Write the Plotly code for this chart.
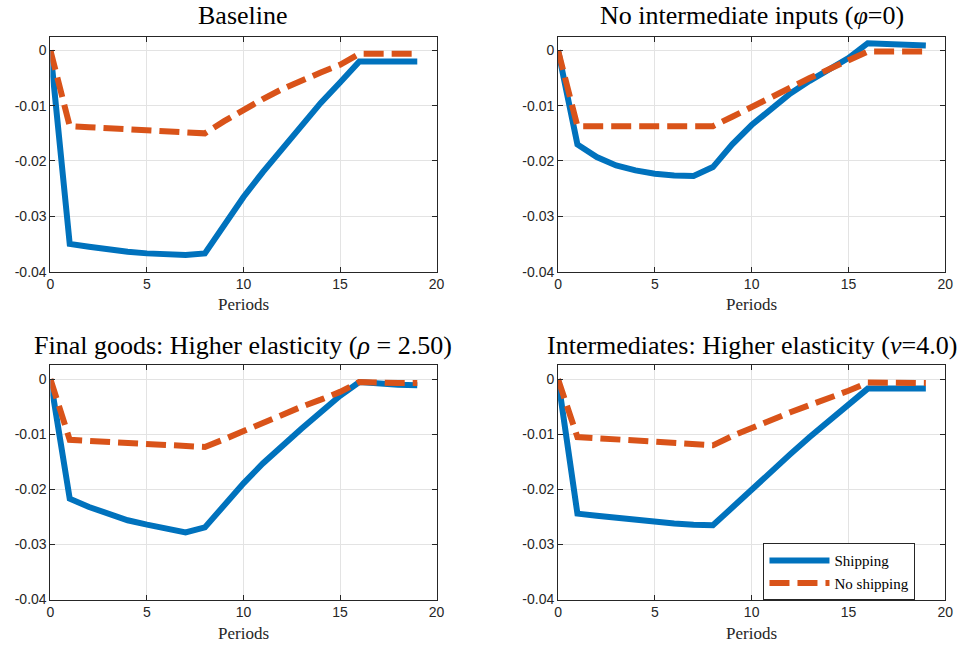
import plotly.graph_objects as go

periods = list(range(20))

titles = [
    "Baseline",
    "No intermediate inputs (<i>φ</i>=0)",
    "Final goods: Higher elasticity (<i>ρ</i> = 2.50)",
    "Intermediates: Higher elasticity (<i>ν</i>=4.0)",
]

shipping_baseline = [0, -0.0350, -0.0355, -0.0360, -0.0364, -0.0367, -0.0369, -0.0370, -0.0367,
                     -0.0315, -0.0265, -0.0220, -0.0178, -0.0135, -0.0095, -0.0058, -0.0020,
                     -0.0020, -0.0020, -0.0020]
noship_baseline = [0, -0.0137, -0.0139, -0.0141, -0.0143, -0.0145, -0.0147, -0.0149, -0.0150,
                   -0.0128, -0.0107, -0.0088, -0.0070, -0.0054, -0.0040, -0.0026, -0.0006,
                   -0.0006, -0.0006, -0.0006]

shipping_phi0 = [0, -0.0170, -0.0193, -0.0208, -0.0217, -0.0223, -0.0226, -0.0227, -0.0211,
                 -0.0170, -0.0135, -0.0105, -0.0078, -0.0055, -0.0035, -0.0014, 0.0013,
                 0.0011, 0.0010, 0.0009]
noship_phi0 = [0, -0.0137, -0.0137, -0.0137, -0.0137, -0.0137, -0.0137, -0.0137, -0.0137,
               -0.0120, -0.0102, -0.0085, -0.0068, -0.0050, -0.0034, -0.0018, -0.0002,
               -0.0002, -0.0002, -0.0002]

shipping_rho = [0, -0.0217, -0.0232, -0.0245, -0.0256, -0.0264, -0.0270, -0.0278, -0.0269,
                -0.0228, -0.0189, -0.0153, -0.0120, -0.0090, -0.0060, -0.0030, -0.0005,
                -0.0008, -0.0010, -0.0011]
noship_rho = [0, -0.0110, -0.0112, -0.0114, -0.0116, -0.0118, -0.0120, -0.0122, -0.0123,
              -0.0109, -0.0094, -0.0080, -0.0065, -0.0050, -0.0037, -0.0023, -0.0005,
              -0.0007, -0.0007, -0.0007]

shipping_nu = [0, -0.0244, -0.0248, -0.0252, -0.0256, -0.0259, -0.0262, -0.0264, -0.0265,
               -0.0233, -0.0200, -0.0168, -0.0136, -0.0105, -0.0075, -0.0046, -0.0017,
               -0.0017, -0.0017, -0.0017]
noship_nu = [0, -0.0105, -0.0107, -0.0109, -0.0111, -0.0113, -0.0115, -0.0118, -0.0120,
             -0.0103, -0.0088, -0.0073, -0.0060, -0.0047, -0.0035, -0.0021, -0.0006,
             -0.0007, -0.0007, -0.0007]

series_names = ["Shipping", "No shipping"]
xtick_vals = [0, 5, 10, 15, 20]
xtick_text = ["0", "5", "10", "15", "20"]
ytick_vals = [0, -0.01, -0.02, -0.03, -0.04]
ytick_text = ["0", "-0.01", "-0.02", "-0.03", "-0.04"]

panels = [
    (shipping_baseline, noship_baseline),
    (shipping_phi0, noship_phi0),
    (shipping_rho, noship_rho),
    (shipping_nu, noship_nu),
]

W, H = 969, 652
BLUE = "#0072BD"
ORANGE = "#D95319"
SERIF = "Liberation Serif"
SANS = "Liberation Sans"

xdoms = [[47 / W, 438 / W], [561 / W, 953 / W]]
ydoms = [[1 - 275 / H, 1 - 37 / H], [1 - 607 / H, 1 - 370 / H]]
title_y = [1 - 16 / H, 1 - 350 / H]
period_y = [1 - 308 / H, 1 - 641 / H]

fig = go.Figure()
annotations = []
for i, (ship, noship) in enumerate(panels):
    r, c = divmod(i, 2)
    ax = "" if i == 0 else str(i + 1)
    fig.add_trace(go.Scatter(
        x=periods, y=ship, mode="lines", name=series_names[0],
        line=dict(color=BLUE, width=6), xaxis="x" + ax, yaxis="y" + ax,
        showlegend=(i == 3), legendrank=1))
    fig.add_trace(go.Scatter(
        x=periods, y=noship, mode="lines", name=series_names[1],
        line=dict(color=ORANGE, width=6, dash="20px,8px"), xaxis="x" + ax, yaxis="y" + ax,
        showlegend=(i == 3), legendrank=2))
    common = dict(showline=True, linecolor="#262626", linewidth=1, mirror="allticks",
                  ticks="inside", ticklen=5, tickcolor="#262626", showgrid=True,
                  gridcolor="#e3e3e3", gridwidth=1, zeroline=False,
                  tickfont=dict(family=SANS, size=14, color="#262626"))
    fig.update_layout(**{
        "xaxis" + ax: dict(domain=xdoms[c], anchor="y" + ax, range=[0, 20],
                           tickvals=xtick_vals, ticktext=xtick_text, **common),
        "yaxis" + ax: dict(domain=ydoms[r], anchor="x" + ax, range=[-0.04, 0.0025],
                           tickvals=ytick_vals, ticktext=ytick_text, **common),
    })
    xc = (xdoms[c][0] + xdoms[c][1]) / 2
    annotations.append(dict(text=titles[i], x=xc, y=title_y[r], xref="paper", yref="paper",
                            xanchor="center", yanchor="middle", showarrow=False,
                            font=dict(family=SERIF, size=26, color="black")))
    annotations.append(dict(text="Periods", x=xc, y=period_y[r], xref="paper", yref="paper",
                            xanchor="center", yanchor="middle", showarrow=False,
                            font=dict(family=SERIF, size=17, color="#262626")))

fig.update_layout(
    width=W, height=H, margin=dict(l=0, r=0, t=0, b=0),
    paper_bgcolor="white", plot_bgcolor="white",
    annotations=annotations,
    legend=dict(x=769 / W, y=1 - 550 / H, xanchor="left", yanchor="top",
                bgcolor="white", bordercolor="#262626", borderwidth=1,
                font=dict(family=SERIF, size=15, color="black"),
                tracegroupgap=0, itemwidth=60),
)

fig.write_html("out.html")
